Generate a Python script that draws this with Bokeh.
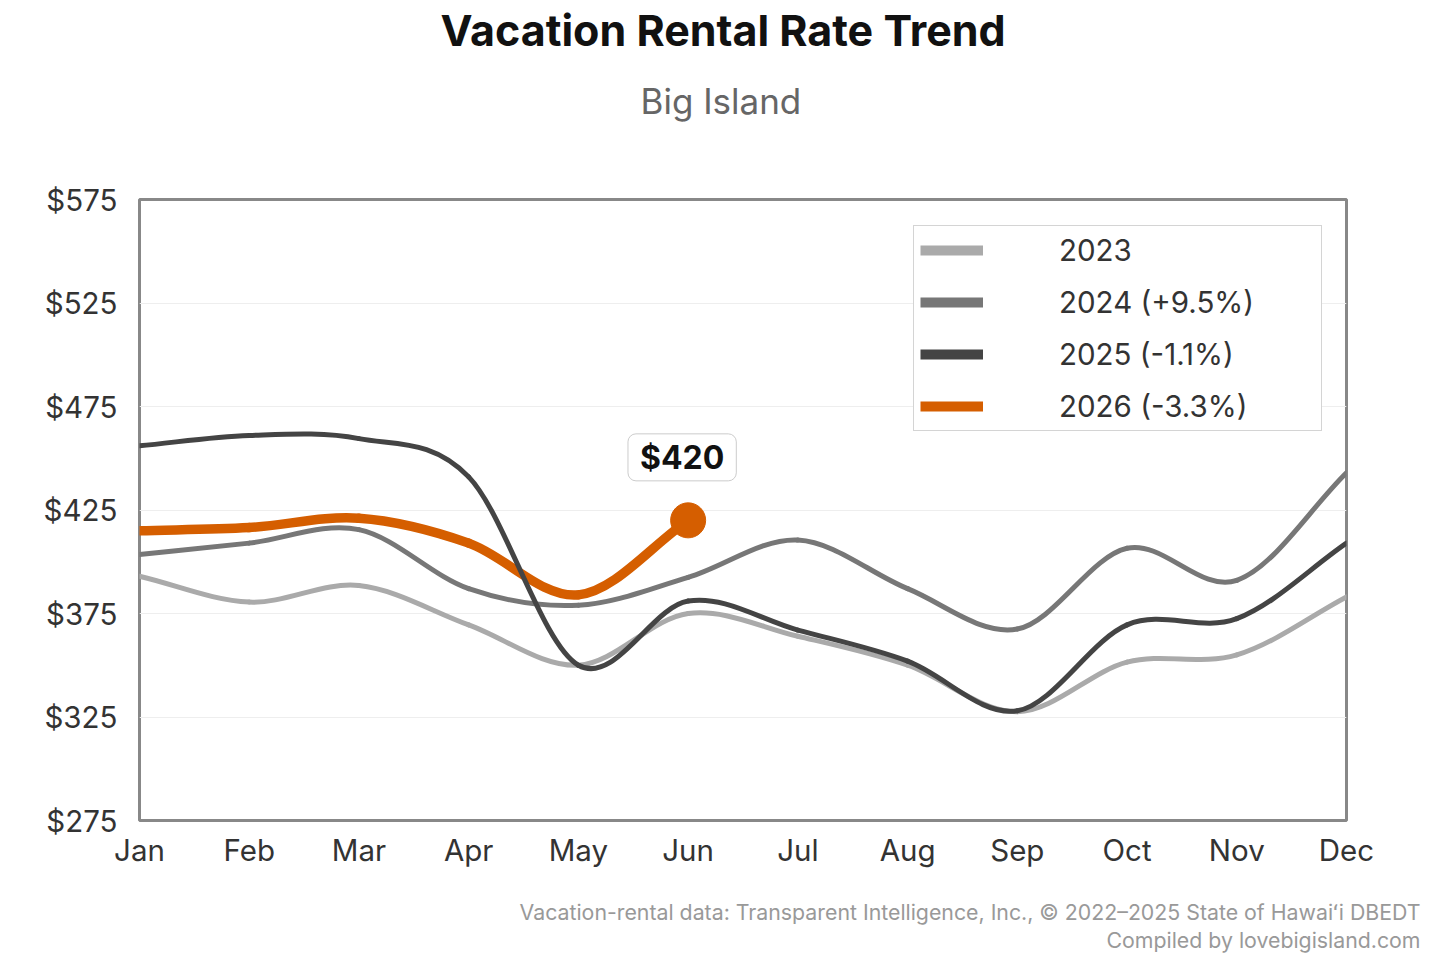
from bokeh.plotting import figure
from bokeh.models import (Range1d, FixedTicker, Label, Legend, LegendItem,
                          NumeralTickFormatter, Title)
from bokeh.embed import file_html
from bokeh.resources import INLINE
import numpy as np

# monthly average nightly rates
months = ["Jan", "Feb", "Mar", "Apr", "May", "Jun",
          "Jul", "Aug", "Sep", "Oct", "Nov", "Dec"]
rate_2023 = [393, 380.5, 388.5, 369.5, 350, 375, 364, 350, 327.5, 351.5, 355, 383]
rate_2024 = [403.5, 409, 415.5, 387, 379, 392.5, 410.5, 387, 367.5, 406.5, 391, 443]
rate_2025 = [456, 461, 459.5, 441, 350, 381, 367, 352, 328, 369.5, 372.5, 409]
rate_2026 = [415, 416.5, 421, 409, 384, 420]

labels = ["2023", "2024 (+9.5%)", "2025 (-1.1%)", "2026 (-3.3%)"]
colors = ["#aaaaaa", "#777777", "#444444", "#d55e00"]
y_ticks = [275, 325, 375, 425, 475, 525, 575]

FONT = "Inter"


def smooth_bezier(ys):
    # catmull-rom style curve through the monthly points, as bezier segments
    y = np.asarray(ys, dtype=float)
    n = len(y)
    m = np.empty(n)
    m[1:-1] = (y[2:] - y[:-2]) / 2
    m[0] = y[1] - y[0]
    m[-1] = y[-1] - y[-2]
    xs = np.arange(n)
    return dict(x0=xs[:-1], y0=y[:-1], x1=xs[1:], y1=y[1:],
                cx0=xs[:-1] + 1 / 3, cy0=y[:-1] + m[:-1] / 3,
                cx1=xs[1:] - 1 / 3, cy1=y[1:] - m[1:] / 3)


p = figure(width=1440, height=960, output_backend="svg", toolbar_location=None,
           tools="", x_range=Range1d(0, 11), y_range=Range1d(275, 575),
           min_border_left=139, min_border_right=94, min_border_top=198,
           min_border_bottom=140)
p.title.visible = False
p.background_fill_color = "white"
p.border_fill_color = "white"
p.outline_line_color = "#888888"
p.outline_line_width = 3

p.xgrid.visible = False
p.ygrid.grid_line_color = "#eeeeee"
p.ygrid.grid_line_width = 1

p.xaxis.ticker = FixedTicker(ticks=list(range(12)))
p.xaxis.major_label_overrides = {i: m for i, m in enumerate(months)}
p.yaxis.ticker = FixedTicker(ticks=y_ticks)
p.yaxis.formatter = NumeralTickFormatter(format="$0")
for ax in (p.xaxis, p.yaxis):
    ax.axis_line_color = None
    ax.major_tick_line_color = None
    ax.minor_tick_line_color = None
    ax.major_tick_in = 0
    ax.major_tick_out = 0
    ax.major_label_text_font = FONT
    ax.major_label_text_font_size = "29.5px"
    ax.major_label_text_color = "#333333"
p.yaxis.major_label_standoff = 22
p.xaxis.major_label_standoff = 11

# draw order: 2026 under the grey years, as in the reference
order = [3, 0, 1, 2]
series = [rate_2023, rate_2024, rate_2025, rate_2026]
for k in order:
    seg = smooth_bezier(series[k])
    p.bezier(x0="x0", y0="y0", x1="x1", y1="y1", cx0="cx0", cy0="cy0",
             cx1="cx1", cy1="cy1", source=seg, line_color=colors[k],
             line_width=9.5 if k == 3 else 5, line_cap="round")

p.scatter(x=[len(rate_2026) - 1], y=[rate_2026[-1]], size=35,
          fill_color=colors[3], line_color=colors[3])

p.add_layout(Label(x=len(rate_2026) - 1, y=rate_2026[-1], x_offset=-6, y_offset=63,
                   text="$" + str(rate_2026[-1]), text_font=FONT,
                   text_font_size="32px", text_font_style="bold",
                   text_color="#111111", text_align="center",
                   text_baseline="middle", background_fill_color="white",
                   border_line_color="#cccccc", border_line_width=1,
                   border_radius=8, padding=(12, 4)))

# legend swatches (zero-length proxy lines, only their legend swatch shows)
items = []
for k in range(4):
    r = p.line(x=[0, 0], y=[series[k][0], series[k][0]], line_color=colors[k],
               line_width=10)
    items.append(LegendItem(label=labels[k], renderers=[r]))
legend = Legend(items=items, location=(774, 389), orientation="vertical",
                glyph_width=63, glyph_height=36, label_height=36,
                label_standoff=76, label_width=256, spacing=16, padding=6,
                margin=0, label_text_font=FONT, label_text_font_size="29.5px",
                label_text_color="#333333", border_line_color="#aaaaaa",
                border_line_width=1.5, background_fill_color="white",
                background_fill_alpha=1)
p.add_layout(legend)

# title stack above the frame (closest first)
p.add_layout(Title(text=" ", text_font_size="1px", standoff=54), "above")
p.add_layout(Title(text="Big Island", text_font=FONT, text_font_size="35px",
                   text_font_style="normal", text_color="#666666",
                   align="left", offset=501, standoff=39,
                   vertical_align="middle"), "above")
p.add_layout(Title(text="Vacation Rental Rate Trend", text_font=FONT,
                   text_font_size="43px", text_font_style="bold",
                   text_color="#111111", align="left", offset=301,
                   standoff=5, vertical_align="middle"), "above")

# source notes below the axis (closest first)
p.add_layout(Title(text=" ", text_font_size="1px", standoff=24), "below")
p.add_layout(Title(text="Vacation-rental data: Transparent Intelligence, Inc., \u00a9 2022\u20132025 State of Hawai\u02bbi DBEDT",
                   text_font=FONT, text_font_size="21.3px", text_font_style="normal",
                   text_color="#999999", align="right", offset=-74, standoff=0,
                   vertical_align="middle"), "below")
p.add_layout(Title(text="Compiled by lovebigisland.com",
                   text_font=FONT, text_font_size="21.3px", text_font_style="normal",
                   text_color="#999999", align="right", offset=-74, standoff=0,
                   vertical_align="middle"), "below")

open("out.html", "w").write(file_html(p, INLINE))
